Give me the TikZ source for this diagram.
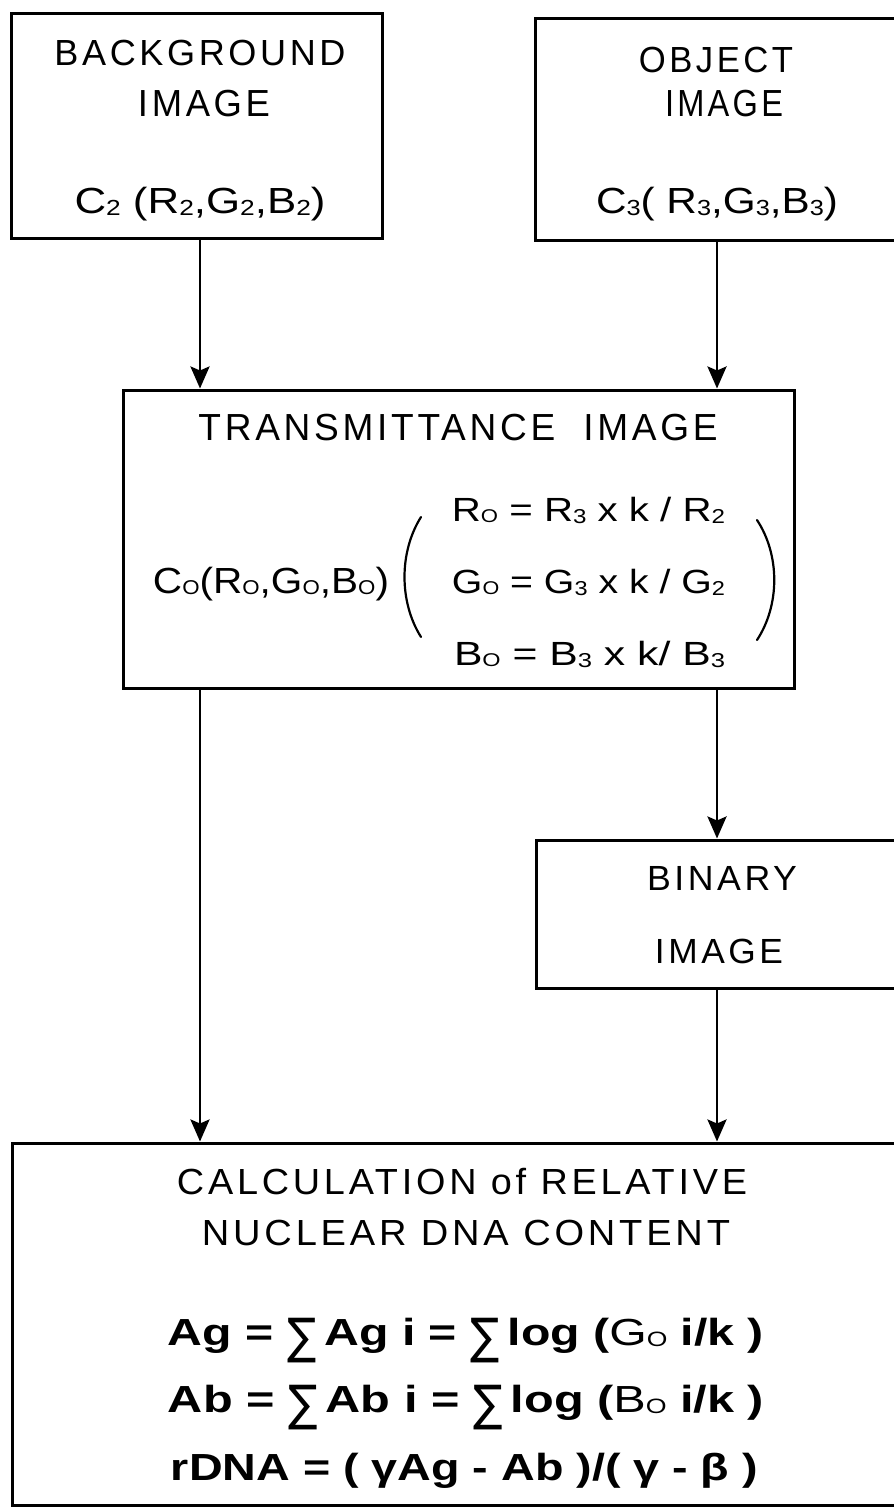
\documentclass[tikz,border=0pt]{standalone}
\usepackage{fontspec}
\usepackage{graphicx}
\setmainfont{Liberation Sans}
\newfontfamily\capsf[LetterSpace=10]{Liberation Sans}
\newfontfamily\dvs{DejaVu Sans}
\usetikzlibrary{arrows.meta}
\newcommand\fitt[3]{\resizebox{#1pt}{#2pt}{\rule{0pt}{0.716em}\smash{#3}}}
\newcommand\sbs[1]{\raisebox{-0.06em}{\scalebox{0.6}{#1}}}
\newcommand\sbo{\raisebox{-0.04em}{\scalebox{0.55}{O}}}
\newcommand\bsig{\raisebox{-0.22em}{\scalebox{0.9}[1.3]{\mdseries\dvs ∑}}}
\begin{document}
\begin{tikzpicture}[x=1pt,y=-1pt,
  box/.style={draw, line width=3pt, inner sep=0pt, rectangle},
  arr/.style={line width=2.8pt, -{Stealth[length=22pt,width=19pt,inset=4pt]}},
  txt/.style={anchor=base, inner sep=0pt, outer sep=0pt},
  paren/.style={line width=2.2pt, line cap=round}]
\path[use as bounding box] (0,0) rectangle (894,1510);
\clip (0,0) rectangle (894,1510);
\fill[white] (0,0) rectangle (894,1510);
% boxes
\node[box, minimum width=371pt, minimum height=225pt] (bg) at (196.5,125.5) {};
\node[box, minimum width=365pt, minimum height=222pt] (obj) at (717.5,129) {};
\node[box, minimum width=671pt, minimum height=298pt] (tr) at (458.5,539) {};
\node[box, minimum width=364pt, minimum height=148pt] (bin) at (718,914) {};
\node[box, minimum width=888pt, minimum height=362pt] (calc) at (456,1324) {};
% arrow columns
\coordinate (al) at (200,0);
\coordinate (ar) at (717,0);
\draw[arr] (bg.south -| al) -- (tr.north -| al);
\draw[arr] (obj.south -| ar) -- (tr.north -| ar);
\draw[arr] (tr.south -| al) -- (calc.north -| al);
\draw[arr] (tr.south -| ar) -- (bin.north -| ar);
\draw[arr] (bin.south -| ar) -- (calc.north -| ar);
% texts
\node[txt,font=\capsf] (t1) at (200,65) {\fitt{291}{26}{BACKGROUND}};
\node[txt,font=\capsf] (t2) at (204,116) {\fitt{132}{27}{IMAGE}};
\node[txt] (t3) at (200,213) {\fitt{251}{26}{C\sbs{2} (R\sbs{2},G\sbs{2},B\sbs{2})}};
\node[txt,font=\capsf] (t4) at (716,72) {\fitt{154}{26}{OBJECT}};
\node[txt,font=\capsf] (t5) at (724,116) {\fitt{118}{27}{IMAGE}};
\node[txt] (t6) at (717,213) {\fitt{242}{26}{C\sbs{3}( R\sbs{3},G\sbs{3},B\sbs{3})}};
\node[txt,font=\capsf] (t7) at (458,440) {\fitt{519}{27}{TRANSMITTANCE\ \ IMAGE}};
\node[txt] (t8) at (271,593) {\fitt{236}{26}{C\sbo(R\sbo,G\sbo,B\sbo)}};
\node[txt] (t9) at (588.5,521) {\fitt{273}{24}{R\sbo\ = R\sbs{3} x k / R\sbs{2}}};
\node[txt] (t10) at (588.5,593) {\fitt{273}{24}{G\sbo\ = G\sbs{3} x k / G\sbs{2}}};
\node[txt] (t11) at (589.5,665) {\fitt{271}{24}{B\sbo\ = B\sbs{3} x k/ B\sbs{3}}};
\draw[paren] (421,517) .. controls (399,552) and (399,602) .. (421,637);
\draw[paren] (757,520) .. controls (780,555) and (780,605) .. (757,640);
\node[txt,font=\capsf] (t12) at (722,890) {\fitt{150}{25}{BINARY}};
\node[txt,font=\capsf] (t13) at (719,963) {\fitt{128}{25}{IMAGE}};
\node[txt,font=\capsf] (t14) at (462,1194) {\fitt{570}{26}{CALCULATION of RELATIVE}};
\node[txt,font=\capsf] (t15) at (466,1245) {\fitt{528}{26}{NUCLEAR DNA CONTENT}};
\node[txt,font=\bfseries] (t16) at (466,1345) {\fitt{596}{27}{Ag = \bsig\,Ag i = \bsig\,log ({\mdseries G\sbo} i/k )}};
\node[txt,font=\bfseries] (t17) at (466,1412) {\fitt{596}{27}{Ab = \bsig\,Ab i = \bsig\,log ({\mdseries B\sbo} i/k )}};
\node[txt,font=\bfseries] (t18) at (464.5,1480) {\fitt{587}{27}{rDNA = ( γAg - Ab )/( γ - β )}};
\end{tikzpicture}
\end{document}
